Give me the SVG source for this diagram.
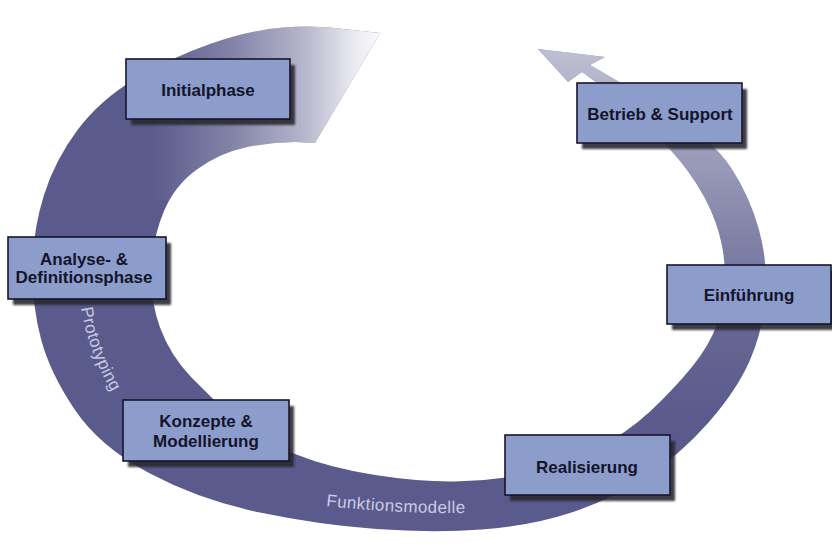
<svg xmlns="http://www.w3.org/2000/svg" width="832" height="547" viewBox="0 0 832 547">
<style>
.box{fill:#8c9dcc;stroke:#16162a;stroke-width:1.6}
.shadow{fill:#2a2a30;opacity:0.9}
.lbl{font-family:"Liberation Sans",Arial,sans-serif;font-weight:bold;font-size:17px;fill:#14142a;text-anchor:middle}
.bandlbl{font-family:"Liberation Sans",Arial,sans-serif;font-size:17px;fill:#cacae4;letter-spacing:0.4px}
</style>
<defs>
<path id="band" d="M380,33 L347.5,29.5 Q317,25 283.5,27.5 Q250,30 210,44 Q170,58 135,79 Q100,100 77.5,130 Q55,160 44,195 Q33,230 32.5,267.5 Q32,305 41,339 Q50,373 75,410 Q100,447 150,473.5 Q200,500 260,512.5 Q320,525 376.5,529 Q433,533 481.5,529.5 Q530,526 570,513 Q610,500 645,477.5 Q680,455 708.5,422.5 Q737,390 750,360 Q763,330 765.5,296.5 Q768,263 759,230 Q750,197 731.5,168.5 Q713,140 666.5,111 Q620,82 590,65 L605,57 L538,49 L568,82 L582,72 L597,83 L632,113 Q667,143 687,170 Q707,197 716,223.5 Q725,250 725,275 Q725,300 717.5,322.5 Q710,345 691.5,367.5 Q673,390 650,411.5 Q627,433 593.5,450.5 Q560,468 525,474.5 Q490,481 455,481.5 Q420,482 375,475 Q330,468 295,454 Q260,440 236.5,420 Q213,400 191.5,377.5 Q170,355 160,327.5 Q150,300 151.5,268.5 Q153,237 164,211 Q175,185 197.5,169 Q220,153 245,147.5 Q270,142 295,142 L315,143 Z"/>
<clipPath id="bandClip"><use href="#band"/></clipPath>
<linearGradient id="fadeTop" x1="150" y1="0" x2="385" y2="0" gradientUnits="userSpaceOnUse">
<stop offset="0" stop-color="#fff" stop-opacity="0"/>
<stop offset="0.35" stop-color="#fff" stop-opacity="0.25"/>
<stop offset="0.65" stop-color="#fff" stop-opacity="0.55"/>
<stop offset="0.85" stop-color="#fff" stop-opacity="0.85"/>
<stop offset="1" stop-color="#fff" stop-opacity="1"/>
</linearGradient>
<linearGradient id="fadeRight" x1="0" y1="45" x2="0" y2="420" gradientUnits="userSpaceOnUse">
<stop offset="0" stop-color="#fff" stop-opacity="0.62"/>
<stop offset="0.4" stop-color="#fff" stop-opacity="0.32"/>
<stop offset="0.75" stop-color="#fff" stop-opacity="0.08"/>
<stop offset="1" stop-color="#fff" stop-opacity="0"/>
</linearGradient>
<filter id="soft" x="-10%" y="-10%" width="120%" height="120%"><feGaussianBlur stdDeviation="1"/></filter>
<path id="protoPath" d="M81,308 Q89,356 118,402"/>
<path id="funkPath" d="M326,506 Q400,514 472,513"/>
</defs>
<rect width="832" height="547" fill="#fff"/>
<g id="connectors">
<use href="#band" fill="#5a5a8c"/>
<g clip-path="url(#bandClip)">
<rect x="150" y="0" width="250" height="200" fill="url(#fadeTop)"/>
<rect x="520" y="0" width="312" height="440" fill="url(#fadeRight)"/>
</g>
<text class="bandlbl"><textPath href="#protoPath">Prototyping</textPath></text>
<text class="bandlbl"><textPath href="#funkPath">Funktionsmodelle</textPath></text>
</g>
<g id="node-initialphase">
<rect class="shadow" x="131" y="65" width="164" height="60" filter="url(#soft)"/>
<rect class="box" x="126" y="59" width="164" height="60"/>
<text class="lbl" x="208" y="96">Initialphase</text>
</g>
<g id="node-betrieb">
<rect class="shadow" x="582" y="89" width="165" height="60" filter="url(#soft)"/>
<rect class="box" x="577" y="83" width="165" height="60"/>
<text class="lbl" x="660" y="120">Betrieb &amp; Support</text>
</g>
<g id="node-analyse">
<rect class="shadow" x="13" y="243" width="158" height="62" filter="url(#soft)"/>
<rect class="box" x="8" y="237" width="158" height="62"/>
<text class="lbl" x="84" y="265">Analyse- &amp;</text>
<text class="lbl" x="84" y="283">Definitionsphase</text>
</g>
<g id="node-konzepte">
<rect class="shadow" x="128" y="406" width="166" height="61" filter="url(#soft)"/>
<rect class="box" x="123" y="400" width="166" height="61"/>
<text class="lbl" x="206" y="427">Konzepte &amp;</text>
<text class="lbl" x="206" y="447">Modellierung</text>
</g>
<g id="node-realisierung">
<rect class="shadow" x="510" y="441" width="165" height="60" filter="url(#soft)"/>
<rect class="box" x="505" y="435" width="165" height="60"/>
<text class="lbl" x="587" y="473">Realisierung</text>
</g>
<g id="node-einfuehrung">
<rect class="shadow" x="672" y="271" width="164" height="59" filter="url(#soft)"/>
<rect class="box" x="667" y="265" width="164" height="59"/>
<text class="lbl" x="749" y="301">Einführung</text>
</g>
</svg>
